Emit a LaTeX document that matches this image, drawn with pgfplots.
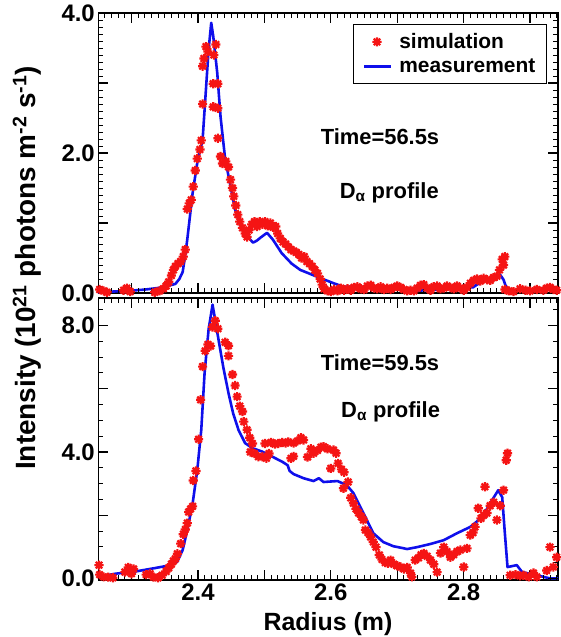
\documentclass[border=0pt]{standalone}
\usepackage{pgfplots}
\pgfplotsset{compat=1.18}
\usepackage{fontspec}
\setmainfont{Liberation Sans}

\pgfdeclareplotmark{ast8}{%
  \pgfpathmoveto{\pgfqpoint{-\pgfplotmarksize}{0pt}}\pgfpathlineto{\pgfqpoint{\pgfplotmarksize}{0pt}}%
  \pgfpathmoveto{\pgfqpoint{0pt}{-\pgfplotmarksize}}\pgfpathlineto{\pgfqpoint{0pt}{\pgfplotmarksize}}%
  \pgfpathmoveto{\pgfqpoint{-0.707\pgfplotmarksize}{-0.707\pgfplotmarksize}}\pgfpathlineto{\pgfqpoint{0.707\pgfplotmarksize}{0.707\pgfplotmarksize}}%
  \pgfpathmoveto{\pgfqpoint{-0.707\pgfplotmarksize}{0.707\pgfplotmarksize}}\pgfpathlineto{\pgfqpoint{0.707\pgfplotmarksize}{-0.707\pgfplotmarksize}}%
  \pgfusepathqstroke}

\definecolor{simred}{RGB}{245,20,20}
\definecolor{measblue}{RGB}{15,15,235}

\pgfplotsset{
  myaxis/.style={
    scale only axis, width=459.7bp,
    xmin=2.25, xmax=2.942,
    axis line style={line width=1.4pt},
    every tick/.style={draw=none},
    tick label style={font=\fontsize{24}{28}\selectfont\bfseries},
    xtick={2.3,2.4,2.5,2.6,2.7,2.8,2.9},
    clip=true,
  },
  simstyle/.style={only marks, color=simred, mark=ast8, mark size=4.6pt, mark options={line width=2.2pt},
    legend image code/.code={\draw[##1] plot coordinates {(13bp,0bp)};}},
  measstyle/.style={no marks, color=measblue, line width=2.6pt, line join=round,
    legend image code/.code={\draw[##1] (0bp,0bp) -- (27bp,0bp);}},
}
\tikzset{majtick/.style={black, line width=1.3pt}, mintick/.style={black, line width=0.9pt}}

\begin{document}
\begin{tikzpicture}
\path[use as bounding box] (0bp,0bp) rectangle (561bp,-637bp);

% ---------------- top panel ----------------
\begin{axis}[myaxis,
  at={(98.3bp,-293bp)}, anchor=south west, height=280bp,
  ymin=0, ymax=4,
  ytick={0,1,2,3,4}, yticklabels={0.0,,2.0,,4.0},
  xticklabels={},
  legend style={at={(0.976,0.961)}, anchor=north east, draw=black, line width=1.3pt,
    font=\fontsize{21}{25}\selectfont\bfseries, row sep=5pt, column sep=5pt, inner xsep=9pt, inner ysep=7pt},
  legend cell align=left,
]
\addplot[simstyle] coordinates {
(2.252,0.05)(2.258,0.03)(2.263,0.01)(2.288,0.04)(2.293,0.07)(2.298,0.02)
(2.335,0.01)(2.342,0.03)(2.348,0.06)(2.352,0.10)(2.356,0.16)(2.360,0.25)
(2.363,0.33)(2.366,0.38)(2.370,0.42)(2.374,0.45)(2.378,0.52)(2.381,0.62)
(2.384,1.20)(2.387,1.28)(2.390,1.33)(2.393,1.52)(2.396,1.75)(2.399,1.92)
(2.403,2.05)(2.405,2.18)(2.407,2.70)(2.407,3.24)(2.409,3.35)(2.412,3.52)
(2.415,3.45)(2.424,3.40)(2.427,3.55)(2.423,2.99)(2.430,2.99)(2.423,2.66)
(2.430,2.64)(2.430,2.21)(2.434,1.95)(2.437,1.85)(2.442,1.88)(2.446,1.80)
(2.449,1.62)(2.452,1.50)(2.454,1.38)(2.457,1.25)(2.460,1.12)(2.463,1.02)
(2.467,0.93)(2.471,0.85)(2.474,0.80)(2.477,0.90)(2.481,0.98)(2.485,1.02)
(2.489,0.95)(2.493,1.02)(2.497,0.98)(2.501,1.02)(2.505,0.96)(2.509,1.00)
(2.513,0.94)(2.517,0.95)(2.520,0.85)(2.524,0.78)(2.528,0.73)(2.532,0.70)
(2.536,0.66)(2.540,0.62)(2.544,0.60)(2.548,0.58)(2.552,0.55)(2.556,0.50)
(2.560,0.52)(2.564,0.45)(2.568,0.42)(2.572,0.38)(2.576,0.33)(2.580,0.28)
(2.584,0.20)(2.587,0.12)(2.590,0.06)(2.595,0.03)(2.600,0.02)
(2.605,0.05)(2.610,0.03)(2.615,0.07)(2.620,0.04)(2.625,0.06)(2.630,0.04)
(2.635,0.08)(2.640,0.09)(2.645,0.06)(2.650,0.05)(2.655,0.10)(2.660,0.11)
(2.665,0.07)(2.670,0.06)(2.675,0.09)(2.680,0.05)(2.685,0.07)(2.690,0.05)
(2.695,0.08)(2.700,0.10)(2.705,0.08)(2.710,0.05)(2.715,0.03)(2.720,0.04)
(2.725,0.03)(2.730,0.07)(2.735,0.11)(2.740,0.12)(2.745,0.07)(2.750,0.04)
(2.755,0.09)(2.760,0.10)(2.765,0.06)(2.770,0.07)(2.775,0.10)(2.780,0.08)
(2.785,0.06)(2.790,0.10)(2.795,0.07)(2.800,0.04)(2.805,0.08)(2.810,0.14)
(2.815,0.18)(2.820,0.20)(2.825,0.17)(2.830,0.21)(2.835,0.19)(2.840,0.18)
(2.845,0.22)(2.850,0.24)(2.854,0.33)(2.858,0.48)(2.862,0.52)(2.860,0.40)
(2.862,0.05)(2.868,0.03)(2.875,0.02)(2.885,0.06)(2.893,0.04)(2.900,0.03)
(2.910,0.05)(2.920,0.04)(2.925,0.07)(2.930,0.08)(2.935,0.05)(2.940,0.04)
};
\addlegendentry{simulation}
\addplot[measstyle] coordinates {
(2.250,0.00)(2.270,0.02)(2.295,0.03)(2.321,0.05)(2.347,0.08)(2.366,0.13)
(2.372,0.20)(2.377,0.30)(2.381,0.55)(2.384,0.77)(2.388,1.10)(2.392,1.43)
(2.399,1.86)(2.407,2.19)(2.411,2.76)(2.416,3.47)(2.420,3.86)(2.423,3.67)
(2.429,3.15)(2.434,2.52)(2.441,1.91)(2.449,1.53)(2.456,1.19)(2.464,0.96)
(2.474,0.81)(2.483,0.72)(2.489,0.75)(2.494,0.79)(2.504,0.86)(2.513,0.76)
(2.526,0.57)(2.541,0.42)(2.554,0.33)(2.580,0.23)(2.604,0.14)(2.619,0.09)
(2.640,0.09)(2.664,0.08)(2.700,0.07)(2.724,0.03)(2.745,0.04)(2.765,0.05)
(2.800,0.08)(2.814,0.08)(2.820,0.12)(2.829,0.16)(2.845,0.21)(2.855,0.26)
(2.860,0.19)(2.867,0.00)
};
\addlegendentry{measurement}
% axis ticks (lengths in data units: 10bp / 5bp)
\pgfplotsinvokeforeach{2.3,2.4,2.5,2.6,2.7,2.8,2.9}{
  \draw[majtick] (axis cs:#1,0) -- (axis cs:#1,0.1429);
  \draw[majtick] (axis cs:#1,4) -- (axis cs:#1,3.8571);}
\pgfplotsinvokeforeach{2.26,2.27,2.28,2.29,2.31,2.32,2.33,2.34,2.35,2.36,2.37,2.38,2.39,
      2.41,2.42,2.43,2.44,2.45,2.46,2.47,2.48,2.49,2.51,2.52,2.53,2.54,2.55,2.56,2.57,2.58,2.59,
      2.61,2.62,2.63,2.64,2.65,2.66,2.67,2.68,2.69,2.71,2.72,2.73,2.74,2.75,2.76,2.77,2.78,2.79,
      2.81,2.82,2.83,2.84,2.85,2.86,2.87,2.88,2.89,2.91,2.92,2.93,2.94}{
  \draw[mintick] (axis cs:#1,0) -- (axis cs:#1,0.0714);
  \draw[mintick] (axis cs:#1,4) -- (axis cs:#1,3.9286);}
\pgfplotsinvokeforeach{1,2,3}{
  \draw[majtick] (axis cs:2.25,#1) -- (axis cs:2.26506,#1);
  \draw[majtick] (axis cs:2.942,#1) -- (axis cs:2.92694,#1);}
\pgfplotsinvokeforeach{0.1,0.2,0.3,0.4,0.5,0.6,0.7,0.8,0.9,1.1,1.2,1.3,1.4,1.5,1.6,1.7,1.8,1.9,
    2.1,2.2,2.3,2.4,2.5,2.6,2.7,2.8,2.9,3.1,3.2,3.3,3.4,3.5,3.6,3.7,3.8,3.9}{
  \draw[mintick] (axis cs:2.25,#1) -- (axis cs:2.25753,#1);
  \draw[mintick] (axis cs:2.942,#1) -- (axis cs:2.93447,#1);}
\node[font=\fontsize{22}{26}\selectfont\bfseries] at (axis cs:2.674,2.23) {Time=56.5s};
\node[font=\fontsize{22}{26}\selectfont\bfseries] at (axis cs:2.688,1.43) {D\textsubscript{α} profile};
\end{axis}

% ---------------- bottom panel ----------------
\begin{axis}[myaxis,
  at={(98.3bp,-580bp)}, anchor=south west, height=282bp,
  ymin=-0.05, ymax=8.87,
  ytick={0,2,4,6,8}, yticklabels={0.0,,4.0,,8.0},
  xticklabels={,2.4,,2.6,,2.8,},
]
\addplot[simstyle] coordinates {
(2.251,0.42)(2.252,0.12)(2.258,0.05)(2.265,0.04)(2.272,0.02)(2.290,0.20)
(2.295,0.35)(2.300,0.15)(2.303,0.30)(2.322,0.12)(2.328,0.15)(2.333,0.04)
(2.340,0.02)(2.346,0.10)(2.352,0.22)(2.356,0.33)(2.360,0.45)(2.363,0.55)
(2.366,0.62)(2.369,0.78)(2.374,1.10)(2.378,1.40)(2.381,1.55)(2.384,1.75)
(2.386,2.10)(2.389,2.20)(2.392,2.28)(2.393,3.10)(2.397,3.40)(2.401,4.40)
(2.404,5.65)(2.407,6.70)(2.411,7.20)(2.415,7.40)(2.419,7.35)(2.422,7.95)
(2.426,8.15)(2.430,7.90)(2.441,7.47)(2.446,7.36)(2.446,7.04)(2.452,6.45)
(2.456,6.10)(2.459,5.75)(2.463,5.45)(2.467,5.28)(2.469,4.96)(2.474,4.70)
(2.478,4.45)(2.482,4.27)(2.479,4.00)(2.485,3.95)(2.491,3.85)(2.497,3.85)
(2.503,3.80)(2.507,3.95)(2.501,4.27)(2.510,4.30)(2.516,4.25)(2.521,4.27)
(2.527,4.30)(2.532,4.28)(2.536,4.32)(2.540,3.80)(2.544,4.28)(2.544,3.86)
(2.550,4.35)(2.555,4.45)(2.559,4.38)(2.565,3.84)(2.570,4.10)(2.574,3.96)
(2.580,4.05)(2.585,4.15)(2.589,4.17)(2.595,4.10)(2.600,3.48)(2.604,4.06)
(2.608,3.96)(2.611,3.64)(2.616,3.45)(2.620,3.36)(2.619,2.85)(2.626,3.05)
(2.630,2.55)(2.634,2.38)(2.638,2.20)(2.642,2.07)(2.646,1.95)(2.649,1.85)
(2.652,1.53)(2.656,1.45)(2.660,1.31)(2.664,1.15)(2.668,0.99)(2.673,0.74)
(2.677,0.60)(2.682,0.50)(2.686,0.48)(2.690,0.58)(2.695,0.45)(2.700,0.40)
(2.705,0.36)(2.710,0.30)(2.715,0.35)(2.720,0.17)(2.722,0.05)(2.727,0.58)
(2.732,0.65)(2.736,0.75)(2.740,0.79)(2.745,0.70)(2.750,0.58)(2.755,0.45)
(2.760,0.20)(2.765,0.80)(2.770,0.99)(2.775,0.85)(2.780,0.67)(2.785,0.75)
(2.790,0.85)(2.795,0.90)(2.800,0.36)(2.805,0.95)(2.810,1.37)(2.814,1.45)
(2.817,1.63)(2.822,2.22)(2.826,1.90)(2.830,2.00)(2.832,2.90)(2.835,2.07)
(2.840,2.30)(2.845,2.41)(2.850,1.85)(2.855,2.30)(2.860,2.79)(2.864,3.74)
(2.866,3.96)(2.870,0.10)(2.878,0.12)(2.885,0.08)(2.890,0.10)(2.898,0.05)
(2.905,0.17)(2.910,0.05)(2.925,0.25)(2.930,0.99)(2.935,0.36)(2.940,0.67)
};
\addplot[measstyle] coordinates {
(2.250,0.05)(2.276,0.15)(2.306,0.22)(2.336,0.33)(2.354,0.40)(2.369,0.53)
(2.377,0.90)(2.384,1.53)(2.392,2.37)(2.399,3.43)(2.405,4.70)(2.410,6.50)
(2.416,7.87)(2.422,8.66)(2.425,8.29)(2.431,7.55)(2.438,6.70)(2.446,5.86)
(2.453,5.22)(2.461,4.70)(2.471,4.28)(2.482,4.12)(2.497,4.01)(2.512,3.85)
(2.527,3.69)(2.535,3.58)(2.538,3.40)(2.544,3.30)(2.559,3.17)(2.574,3.08)
(2.582,3.17)(2.589,3.05)(2.610,3.08)(2.624,2.95)(2.634,2.70)(2.649,2.07)
(2.664,1.43)(2.679,1.15)(2.694,1.02)(2.715,0.93)(2.730,0.99)(2.750,1.09)
(2.770,1.21)(2.790,1.43)(2.810,1.63)(2.828,1.94)(2.840,2.38)(2.852,2.79)
(2.858,2.57)(2.862,1.43)(2.866,0.36)(2.880,0.42)(2.888,0.20)(2.910,0.10)
(2.930,0.00)(2.942,0.00)
};
% axis ticks (lengths in data units: 10bp / 5bp)
\pgfplotsinvokeforeach{2.3,2.4,2.5,2.6,2.7,2.8,2.9}{
  \draw[majtick] (axis cs:#1,-0.05) -- (axis cs:#1,0.2663);
  \draw[majtick] (axis cs:#1,8.87) -- (axis cs:#1,8.5537);}
\pgfplotsinvokeforeach{2.26,2.27,2.28,2.29,2.31,2.32,2.33,2.34,2.35,2.36,2.37,2.38,2.39,
      2.41,2.42,2.43,2.44,2.45,2.46,2.47,2.48,2.49,2.51,2.52,2.53,2.54,2.55,2.56,2.57,2.58,2.59,
      2.61,2.62,2.63,2.64,2.65,2.66,2.67,2.68,2.69,2.71,2.72,2.73,2.74,2.75,2.76,2.77,2.78,2.79,
      2.81,2.82,2.83,2.84,2.85,2.86,2.87,2.88,2.89,2.91,2.92,2.93,2.94}{
  \draw[mintick] (axis cs:#1,-0.05) -- (axis cs:#1,0.108);
  \draw[mintick] (axis cs:#1,8.87) -- (axis cs:#1,8.712);}
\pgfplotsinvokeforeach{0,2,4,6,8}{
  \draw[majtick] (axis cs:2.25,#1) -- (axis cs:2.26506,#1);
  \draw[majtick] (axis cs:2.942,#1) -- (axis cs:2.92694,#1);}
\pgfplotsinvokeforeach{0.5,1,1.5,2.5,3,3.5,4.5,5,5.5,6.5,7,7.5,8.5}{
  \draw[mintick] (axis cs:2.25,#1) -- (axis cs:2.25753,#1);
  \draw[mintick] (axis cs:2.942,#1) -- (axis cs:2.93447,#1);}
\node[font=\fontsize{22}{26}\selectfont\bfseries] at (axis cs:2.674,6.84) {Time=59.5s};
\node[font=\fontsize{22}{26}\selectfont\bfseries] at (axis cs:2.690,5.28) {D\textsubscript{α} profile};
\end{axis}

\node[rotate=90, font=\fontsize{28}{32}\selectfont\bfseries] at (27bp,-268bp)
  {Intensity (10\textsuperscript{21} photons m\textsuperscript{-2} s\textsuperscript{-1})};
\node[font=\fontsize{25}{29}\selectfont\bfseries] at (328bp,-624bp) {Radius (m)};
\end{tikzpicture}
\end{document}
